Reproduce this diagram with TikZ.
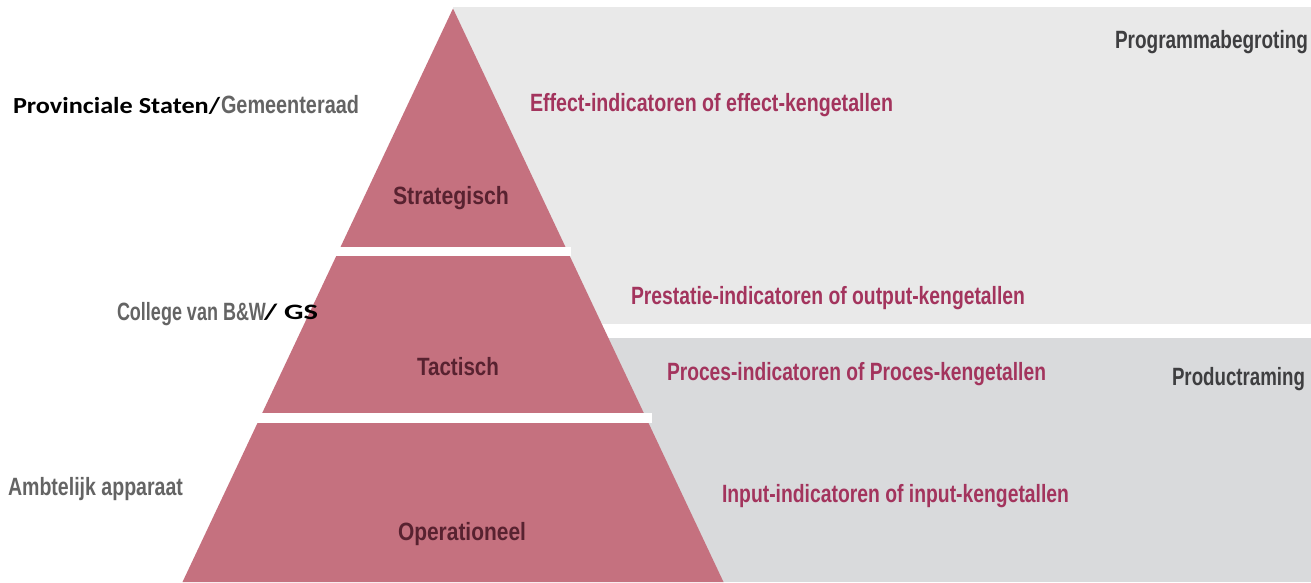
\documentclass[tikz,border=0pt]{standalone}
\usepackage{fontspec}
\usepackage{graphicx}
\setmainfont{Liberation Sans}
\newfontfamily\calib{Carlito}
\newcommand{\fitw}[2]{\resizebox{#1}{\height}{#2}}
\definecolor{pyr}{RGB}{197,113,127}
\definecolor{lightbg}{RGB}{233,233,233}
\definecolor{darkbg}{RGB}{217,218,220}
\definecolor{indc}{RGB}{163,52,93}
\definecolor{lvlc}{RGB}{88,34,48}
\definecolor{orgc}{RGB}{100,100,100}
\definecolor{hdrc}{RGB}{62,62,64}
\tikzset{
  lbl/.style={inner sep=0pt, outer sep=0pt, anchor=base west},
  cfont/.style={font=\fontsize{25}{29}\selectfont\bfseries},
  ind/.style={lbl, cfont, text=indc},
  lvl/.style={lbl, cfont, text=lvlc},
  org/.style={lbl, cfont, text=orgc},
  hdr/.style={lbl, cfont, text=hdrc},
  blk/.style={lbl, text=black, font=\calib\fontsize{23}{26}\selectfont\bfseries},
  gap/.style={fill=white}
}
\begin{document}
\begin{tikzpicture}[x=1pt,y=-1pt]
\useasboundingbox (0,0) rectangle (1311,582);
\fill[white] (0,0) rectangle (1311,582);
% background panels
\fill[lightbg] (453,7) rectangle (1311,324);
\fill[darkbg] (500,338) rectangle (1311,582);
% pyramid
\fill[pyr] (453,8.5) -- (723.5,582) -- (182.5,582) -- cycle;
\fill[gap] (336,247) rectangle (571,256);
\fill[gap] (254,413) rectangle (652,423);
% level labels
\node[lvl] (strat) at (393,204) {\fitw{116pt}{Strategisch}};
\node[lvl] (tact) at (417,375) {\fitw{82pt}{Tactisch}};
\node[lvl] (oper) at (398,540) {\fitw{128pt}{Operationeel}};
% organisation labels
\node[blk] (ps) at (13,113) {\fitw{207pt}{Provinciale Staten/}};
\node[org] (gr) at (221,113) {\fitw{138pt}{Gemeenteraad}};
\node[org] (bw) at (117,320) {\fitw{149pt}{College van B\&W}};
\node[blk, font=\calib\fontsize{22}{26}\selectfont\bfseries] (gs) at (264,319) {\fitw{54pt}{/ GS}};
\node[org] (amb) at (8,495) {\fitw{175pt}{Ambtelijk apparaat}};
% indicator labels
\node[ind] (eff) at (530,111) {\fitw{363pt}{Effect-indicatoren of effect-kengetallen}};
\node[ind] (pre) at (631,304) {\fitw{394pt}{Prestatie-indicatoren of output-kengetallen}};
\node[ind] (pro) at (667,380) {\fitw{379pt}{Proces-indicatoren of Proces-kengetallen}};
\node[ind] (inp) at (722,502) {\fitw{347pt}{Input-indicatoren of input-kengetallen}};
% document labels
\node[hdr] (prog) at (1115,48) {\fitw{193pt}{Programmabegroting}};
\node[hdr] (prod) at (1172,385) {\fitw{133pt}{Productraming}};
\end{tikzpicture}
\end{document}
